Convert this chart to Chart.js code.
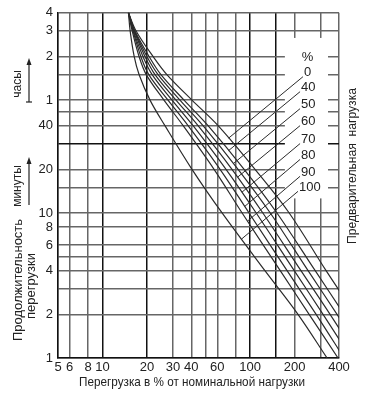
<!DOCTYPE html>
<html>
<head>
<meta charset="utf-8">
<script src="https://cdn.jsdelivr.net/npm/chart.js@4.4.0/dist/chart.umd.min.js"></script>
<style>
  html, body { margin: 0; padding: 0; background: #fff; }
  canvas { display: block; }
</style>
</head>
<body>
<canvas id="chartId" width="366" height="397"></canvas>
<script>
// time levels (minutes) where the curves were read
const minutes = [240, 180, 120, 90, 60, 40, 20, 10, 4, 2, 1];

// overload, % for every preload curve at the time levels above
const load0 = [15, 16.9, 22.0, 27.3, 40.4, 60.7, 108, 184, 327, 514, 796];
const load40 = [15, 16.6, 20.7, 24.9, 35.7, 51.9, 91.1, 152, 276, 433, 671];
const load50 = [15, 16.5, 20.0, 23.8, 33.5, 48.0, 82.9, 137, 247, 388, 601];
const load60 = [15, 16.4, 19.4, 22.7, 31.5, 44.4, 75.4, 122, 221, 348, 539];
const load70 = [15, 16.2, 18.8, 21.7, 29.6, 41.1, 68.7, 110, 199, 312, 483];
const load80 = [15, 16.1, 18.2, 20.6, 27.8, 38.0, 62.6, 98.4, 178, 280, 433];
const load90 = [15, 15.9, 17.7, 19.8, 26.1, 35.2, 57.0, 88.3, 160, 251, 394];
const load100 = [15, 15.4, 16.4, 17.7, 21.0, 26.5, 40.4, 64.6, 126, 211, 332];

const preloads = ["0", "40", "50", "60", "70", "80", "90", "100"];
const curves = [load0, load40, load50, load60, load70, load80, load90, load100];

// leader lines from curve to label (overload %, minutes)
const leaderFromX = [71.5, 71.4, 77.0, 82.5, 88.0, 92.0, 96.2, 87.4];
const leaderFromY = [32.8, 26.9, 21.9, 17.7, 13.9, 11.1, 8.8, 6.6];
const leaderToX = [228, 218, 218, 218, 218, 218, 218, 211];
const leaderToY = [87.0, 68.6, 52.4, 40.0, 30.1, 23.4, 17.9, 14.1];

// grid and tick labels
const xGrid = [5, 6, 8, 10, 20, 30, 40, 50, 60, 80, 100, 150, 200, 300, 400];
const xLabels = [5, 6, 8, 10, 20, 30, 40, 60, 100, 200, 400];
const xMajor = [10, 20, 100, 150];
const yGrid = [1, 2, 3, 4, 5, 6, 8, 10, 15, 20, 30, 40, 50, 60, 90, 120, 180, 240];
const yLabelValues = [1, 2, 4, 6, 8, 10, 20, 40, 60, 120, 180, 240];
const yLabelText = ["1", "2", "4", "6", "8", "10", "20", "40", "1", "2", "3", "4"];
const yMajor = [30];

// legend area where the grid is left blank (overload %, minutes)
const blankX = [172, 337];
const blankY = [12.6, 161];

const FONT = '"Liberation Sans Narrow", "Liberation Sans", Arial, sans-serif';
const INK = "#222";

Chart.defaults.font.family = FONT;
Chart.defaults.color = INK;

var datasets = [];
for (let i = 0; i < curves.length; i++) {
  datasets.push({
    label: preloads[i],
    data: curves[i].map((v, j) => ({ x: v, y: minutes[j] })),
    borderColor: "#2b2b2b",
    borderWidth: 1.2,
    pointRadius: 0,
    tension: 0.35,
  });
}
for (let i = 0; i < preloads.length; i++) {
  datasets.push({
    label: "leader " + preloads[i],
    data: [
      { x: leaderFromX[i], y: leaderFromY[i] },
      { x: leaderToX[i], y: leaderToY[i] },
    ],
    borderColor: "#2b2b2b",
    borderWidth: 1,
    pointRadius: 0,
    tension: 0,
  });
}

// text squeezed to a given width (the original uses a condensed face)
function fitText(ctx, text, x, y, width, rotate) {
  const w = ctx.measureText(text).width;
  ctx.save();
  ctx.translate(x, y);
  if (rotate) ctx.rotate(-Math.PI / 2);
  if (width && w > width) ctx.scale(width / w, 1);
  ctx.fillText(text, 0, 0);
  ctx.restore();
}

function arrow(ctx, x, yTop, yBottom, bar) {
  ctx.beginPath();
  ctx.moveTo(x, yBottom);
  ctx.lineTo(x, yTop + 4);
  ctx.stroke();
  ctx.beginPath();
  ctx.moveTo(x, yTop);
  ctx.lineTo(x - 2.5, yTop + 7);
  ctx.lineTo(x + 2.5, yTop + 7);
  ctx.closePath();
  ctx.fill();
  if (bar) {
    ctx.beginPath();
    ctx.moveTo(x - 3, yBottom);
    ctx.lineTo(x + 3, yBottom);
    ctx.stroke();
  }
}

// white box behind the preload labels
const blankPlugin = {
  id: "blank",
  beforeDatasetsDraw(chart) {
    const ctx = chart.ctx;
    const sx = chart.scales.x, sy = chart.scales.y;
    const x0 = sx.getPixelForValue(blankX[0]), x1 = sx.getPixelForValue(blankX[1]);
    const y0 = sy.getPixelForValue(blankY[1]), y1 = sy.getPixelForValue(blankY[0]);
    ctx.save();
    ctx.fillStyle = "#fff";
    ctx.fillRect(x0, y0, x1 - x0, y1 - y0);
    ctx.restore();
  },
};

// titles, arrows and preload labels
const textPlugin = {
  id: "texts",
  afterDraw(chart) {
    const ctx = chart.ctx;
    const sx = chart.scales.x, sy = chart.scales.y;
    ctx.save();
    ctx.fillStyle = INK;
    ctx.strokeStyle = INK;
    ctx.lineWidth = 1.2;
    ctx.textBaseline = "middle";

    ctx.font = "13px " + FONT;
    ctx.textAlign = "center";
    fitText(ctx, "Перегрузка в % от номинальной нагрузки", 192, 382, 226, false);

    fitText(ctx, "Продолжительность", 18, 280, 128, true);
    fitText(ctx, "перегрузки", 31, 286, 0, true);
    fitText(ctx, "Предварительная  нагрузка", 352, 166, 156, true);

    ctx.font = "12px " + FONT;
    fitText(ctx, "часы", 18, 84, 0, true);
    fitText(ctx, "минуты", 18, 186, 0, true);
    arrow(ctx, 29, 58, 102, true);
    arrow(ctx, 29, 157, 205, false);

    ctx.font = "13px " + FONT;
    ctx.textAlign = "left";
    for (let i = 0; i < preloads.length; i++) {
      const px = sx.getPixelForValue(leaderToX[i]);
      const py = sy.getPixelForValue(leaderToY[i]);
      ctx.fillText(preloads[i], px + 1, py - 4);
      if (i == 0) {
        const w = ctx.measureText(preloads[0]).width;
        ctx.textAlign = "center";
        ctx.fillText("%", px + 1 + w / 2, py - 19);
        ctx.textAlign = "left";
      }
    }
    ctx.restore();
  },
};

const chrt = document.getElementById("chartId").getContext("2d");

const chartId = new Chart(chrt, {
  type: "line",
  data: { datasets: datasets },
  options: {
    responsive: false,
    animation: false,
    devicePixelRatio: 1,
    layout: { padding: { top: 12, right: 27, left: 0, bottom: 0 } },
    plugins: {
      legend: { display: false },
      tooltip: { enabled: false },
    },
    scales: {
      x: {
        type: "logarithmic",
        min: 5,
        max: 400,
        afterBuildTicks: (scale) => {
          scale.ticks = xGrid.map((v) => ({ value: v }));
        },
        afterFit: (scale) => {
          scale.height = 39;
        },
        ticks: {
          autoSkip: false,
          maxRotation: 0,
          padding: 2,
          font: { size: 13 },
          color: INK,
          callback: (value) => (xLabels.includes(value) ? String(value) : ""),
        },
        grid: {
          drawTicks: false,
          color: (c) => (c.tick && xMajor.includes(c.tick.value) ? "#111" : "#666"),
          lineWidth: 1.5,
        },
        border: { color: "#111", width: 1.5 },
      },
      y: {
        type: "logarithmic",
        min: 1,
        max: 240,
        afterBuildTicks: (scale) => {
          scale.ticks = yGrid.map((v) => ({ value: v }));
        },
        afterFit: (scale) => {
          scale.width = 58;
        },
        ticks: {
          autoSkip: false,
          padding: 5,
          font: { size: 13 },
          color: INK,
          callback: (value) => {
            const k = yLabelValues.indexOf(value);
            return k >= 0 ? yLabelText[k] : "";
          },
        },
        grid: {
          drawTicks: false,
          color: (c) => (c.tick && yMajor.includes(c.tick.value) ? "#111" : "#666"),
          lineWidth: 1.5,
        },
        border: { color: "#111", width: 1.5 },
      },
    },
  },
  plugins: [blankPlugin, textPlugin],
});
</script>
</body>
</html>
